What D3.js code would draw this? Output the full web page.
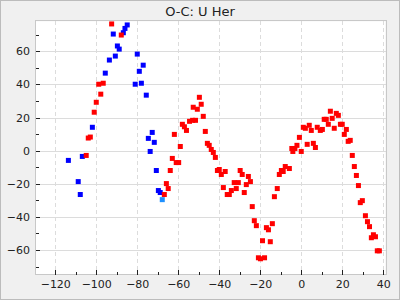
<!DOCTYPE html>
<html><head><meta charset="utf-8">
<script src="https://cdn.jsdelivr.net/npm/d3@7"></script>
<style>
html,body{margin:0;padding:0;background:#f0f0f0;}
svg{display:block;}
</style></head>
<body>
<svg id="c" width="400" height="300"></svg>
<script>
const title = "O-C: U Her";
const xTicks = [-120,-100,-80,-60,-40,-20,0,20,40];
const yTicks = [-60,-40,-20,0,20,40,60];
const xMinor = [-110,-90,-70,-50,-30,-10,10,30];
const yMinor = [-70,-50,-30,-10,10,30,50,70];

const redPoints = [
[-104.9,-2.9],[-103.9,7.6],[-102.9,8.2],[-101.0,23.2],[-100.0,29.2],[-97.8,34.1],[-98.8,40.1],[-96.6,40.7],
[-92.5,76.5],[-87.8,69.8],
[-62.9,-4.7],[-61.0,-7.2],[-59.8,-7.2],[-63.9,-12.0],[-65.8,-19.9],[-64.9,-22.9],[-66.8,-26.5],
[-61.9,9.8],[-59.0,2.5],[-58.0,15.9],[-57.0,14.4],[-56.0,12.2],[-54.5,17.7],[-53.0,18.3],[-51.6,18.3],
[-52.7,26.2],[-50.7,25.0],[-49.7,32.2],[-48.8,28.0],[-47.8,20.7],[-46.8,11.6],[-45.8,4.4],[-44.9,3.2],
[-43.9,0.7],[-42.9,-1.1],[-41.9,-4.1],
[-40.9,-12.0],[-40.0,-11.4],[-39.0,-14.4],[-37.1,-12.6],[-38.0,-22.3],[-36.1,-26.5],[-35.1,-26.5],
[-34.1,-24.1],[-31.7,-22.9],[-32.7,-19.3],[-30.7,-19.3],[-29.8,-12.0],[-28.8,-14.4],[-27.8,-25.3],
[-26.8,-20.5],[-25.8,-15.6],[-24.8,-18.7],[-23.9,-33.8],[-22.9,-42.3],[-21.9,-45.3],[-20.9,-64.7],
[-19.9,-65.3],[-17.9,-64.7],[-18.9,-54.4],[-17.0,-46.5],[-16.0,-47.8],[-15.1,-55.0],[-14.1,-44.1],
[-13.1,-27.8],[-11.7,-22.9],[-10.7,-14.4],[-9.7,-12.0],[-8.8,-12.6],[-7.8,-9.6],[-5.8,-10.8],
[-4.6,1.3],[-3.1,1.3],[-4.1,-0.5],[-2.1,3.2],[-0.9,8.0],[0.0,-0.5],
[1.0,14.1],[2.0,13.5],[3.9,15.3],[4.9,12.2],[2.9,3.8],[5.9,4.4],[6.9,1.9],[7.8,14.1],[9.3,12.2],
[10.3,12.8],[11.2,18.9],[12.2,18.9],[13.2,15.9],[14.2,23.8],[15.1,19.5],[16.1,13.5],[17.1,22.5],
[18.1,21.3],[19.1,15.9],[20.0,15.9],[21.0,9.8],[22.0,12.8],[22.9,5.6],[23.9,6.2],
[24.9,-2.9],[25.9,-9.6],[26.9,-15.0],[27.9,-21.1],[28.8,-31.4],[29.8,-30.2],[31.3,-39.3],[32.3,-42.9],
[33.3,-45.9],[34.2,-52.6],[35.2,-50.8],[36.2,-52.0],[37.1,-60.5],[38.1,-60.5]
];
const bluePoints = [
[-113.6,-5.9],[-106.8,-3.5],[-108.8,-18.7],[-107.8,-26.5],
[-101.9,14.1],[-95.6,46.8],[-93.6,54.7],[-90.7,57.1],[-89.7,63.2],[-88.8,61.3],[-91.7,70.4],
[-86.8,71.2],[-86.0,73.8],[-84.9,75.9],
[-80.0,58.3],[-77.1,51.6],[-79.0,47.9],[-81.0,40.1],[-78.0,40.7],[-75.6,33.5],[-72.7,11.0],
[-74.6,7.4],[-71.7,5.0],[-73.7,-0.5],[-70.7,-12.0],[-69.7,-24.1],[-68.8,-25.3]
];
const lightBluePoints = [[-67.8,-29.6]];

const svg = d3.select("#c");
svg.append("rect").attr("x",0.5).attr("y",0.5).attr("width",399).attr("height",299)
  .attr("fill","#f0f0f0").attr("stroke","#bcbcbc");

const L=36, R=385.5, T=21.3, B=275;
const x = d3.scaleLinear().domain([-129.4,41.1]).range([L,R]);
const y = d3.scaleLinear().domain([-75.1,78.1]).range([B,T]);

svg.append("rect").attr("x",L).attr("y",T).attr("width",R-L).attr("height",B-T).attr("fill","#fff");

const g = svg.append("g").attr("shape-rendering","crispEdges");
// grid
g.selectAll(".hg").data(yTicks).join("line")
  .attr("x1",L).attr("x2",R).attr("y1",d=>Math.round(y(d))+0.5).attr("y2",d=>Math.round(y(d))+0.5)
  .attr("stroke","#dcdcdc").attr("stroke-width",1);
g.selectAll(".vg").data(xTicks).join("line")
  .attr("y1",T).attr("y2",B).attr("x1",d=>Math.round(x(d))+0.5).attr("x2",d=>Math.round(x(d))+0.5)
  .attr("stroke","#dcdcdc").attr("stroke-width",1).attr("stroke-dasharray","4,3");

// frame
svg.append("rect").attr("x",Math.round(L)-0.5).attr("y",Math.round(T)-0.5)
  .attr("width",Math.round(R)-Math.round(L)+1).attr("height",Math.round(B)-Math.round(T))
  .attr("fill","none").attr("stroke","#c8c8c8").attr("shape-rendering","crispEdges");

// axes
const xAxis = d3.axisTop(x).tickValues(xTicks).tickSize(5).tickPadding(-17).tickFormat(d3.format("d"));
const xa = svg.append("g").attr("transform",`translate(0,${Math.round(B)})`).call(xAxis);
xa.select(".domain").remove();
xa.selectAll("text").attr("dy","0").attr("y",12.5);
const xAxisMinor = d3.axisTop(x).tickValues(xMinor).tickSize(3).tickFormat("");
const xm = svg.append("g").attr("transform",`translate(0,${Math.round(B)})`).call(xAxisMinor);
xm.select(".domain").remove();

const yAxis = d3.axisRight(y).tickValues(yTicks).tickSize(4).tickFormat(d3.format("d"));
const ya = svg.append("g").attr("transform",`translate(${Math.round(L)},0)`).call(yAxis);
ya.select(".domain").remove();
ya.selectAll("text").attr("x",-6).attr("text-anchor","end");
const yAxisMinor = d3.axisRight(y).tickValues(yMinor).tickSize(3).tickFormat("");
const ym = svg.append("g").attr("transform",`translate(${Math.round(L)},0)`).call(yAxisMinor);
ym.select(".domain").remove();

svg.selectAll(".tick line").attr("stroke","#222").attr("shape-rendering","crispEdges");
svg.selectAll(".tick text").attr("font-family","DejaVu Sans").attr("font-size","11px").attr("fill","#222");

// points
const s = 5;
function draw(data, color){
  svg.append("g").selectAll("rect").data(data).join("rect")
    .attr("x",d=>x(d[0])-s/2).attr("y",d=>y(d[1])-s/2)
    .attr("width",s).attr("height",s).attr("fill",color);
}
draw(bluePoints,"#0000ff");
draw(redPoints,"#ff0000");
draw(lightBluePoints,"#1e90ff");

svg.append("text").attr("x",200).attr("y",15.5).attr("text-anchor","middle")
  .attr("font-family","DejaVu Sans").attr("font-size","13px").attr("fill","#222").text(title);
</script>
</body></html>
